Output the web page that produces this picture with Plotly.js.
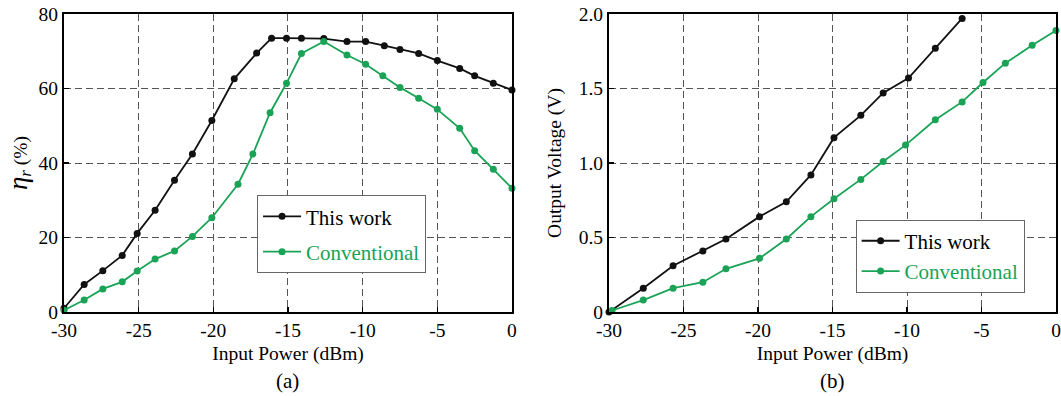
<!DOCTYPE html>
<html>
<head>
<meta charset="utf-8">
<script src="https://cdn.plot.ly/plotly-3.0.1.min.js"></script>
<style>html,body{margin:0;padding:0;background:#fff;}#chart{width:1061px;height:396px;}</style>
</head>
<body>
<div id="chart"></div>
<script>
// Panel (a): rectifier efficiency (%) vs input power (dBm)
const effThisX = [-30, -28.65, -27.4, -26.1, -25.1, -23.9, -22.6, -21.4, -20.1, -18.6, -17.1, -16.1, -15.1, -14.1, -12.6, -11.05, -9.8, -8.55, -7.5, -6.25, -5.0, -3.5, -2.5, -1.25, 0];
const effThisY = [1.0, 7.4, 11.1, 15.2, 21.1, 27.3, 35.4, 42.4, 51.4, 62.6, 69.5, 73.5, 73.5, 73.5, 73.4, 72.6, 72.6, 71.5, 70.5, 69.4, 67.5, 65.4, 63.4, 61.4, 59.6];
const effConvX = [-30, -28.65, -27.4, -26.1, -25.1, -23.9, -22.6, -21.4, -20.1, -18.35, -17.35, -16.2, -15.1, -14.1, -12.6, -11.05, -9.8, -8.65, -7.5, -6.25, -5.0, -3.5, -2.5, -1.25, 0];
const effConvY = [0.5, 3.2, 6.2, 8.1, 11.0, 14.2, 16.4, 20.3, 25.3, 34.3, 42.4, 53.5, 61.4, 69.4, 72.6, 69.0, 66.5, 63.4, 60.3, 57.4, 54.4, 49.3, 43.3, 38.3, 33.2];

// Panel (b): output voltage (V) vs input power (dBm)
const voltThisX = [-30, -27.7, -25.7, -23.7, -22.15, -19.9, -18.1, -16.45, -14.9, -13.1, -11.6, -9.9, -8.1, -6.3];
const voltThisY = [0.0, 0.16, 0.31, 0.41, 0.49, 0.64, 0.74, 0.92, 1.17, 1.32, 1.47, 1.57, 1.77, 1.97];
const voltConvX = [-29.8, -27.7, -25.7, -23.7, -22.15, -19.9, -18.1, -16.45, -14.9, -13.1, -11.6, -10.1, -8.1, -6.3, -4.9, -3.4, -1.6, 0];
const voltConvY = [0.01, 0.08, 0.16, 0.20, 0.29, 0.36, 0.49, 0.64, 0.76, 0.89, 1.01, 1.12, 1.29, 1.41, 1.54, 1.67, 1.79, 1.89];

const xTicks = [-30, -25, -20, -15, -10, -5, 0];
const xTickText = ['-30', '-25', '-20', '-15', '-10', '-5', '0'];
const effTicks = [0, 20, 40, 60, 80];
const effTickText = ['0', '20', '40', '60', '80'];
const voltTicks = [0, 0.5, 1.0, 1.5, 2.0];
const voltTickText = ['0', '0.5', '1.0', '1.5', '2.0'];

const seriesNames = ['This work', 'Conventional'];
const panelLabels = ['(a)', '(b)'];

const BLACK = '#111111';
const GREEN = '#1aa356';
const FONT = '"Liberation Serif", "Times New Roman", Times, serif';

function tr(x, y, name, color, xa, ya, leg, grp) {
  return {
    x: x, y: y, type: 'scatter', mode: 'lines+markers',
    name: name, xaxis: xa, yaxis: ya, legend: leg, legendgroup: grp,
    line: {color: color, width: 1.8},
    marker: {color: color, size: 7},
    cliponaxis: false
  };
}
const convName = '<span style="color:' + GREEN + '">' + seriesNames[1] + '</span>';

const data = [
  tr(effThisX, effThisY, seriesNames[0], BLACK, 'x', 'y', 'legend', 'a1'),
  tr(effConvX, effConvY, convName, GREEN, 'x', 'y', 'legend', 'a2'),
  tr(voltThisX, voltThisY, seriesNames[0], BLACK, 'x2', 'y2', 'legend2', 'b'),
  tr(voltConvX, voltConvY, convName, GREEN, 'x2', 'y2', 'legend2', 'b')
];

function xax(domain, anchor) {
  return {
    domain: domain, anchor: anchor, range: [-30, 0],
    tickvals: xTicks, ticktext: xTickText,
    ticks: 'inside', ticklen: 5, tickwidth: 1.5, tickcolor: '#000',
    showgrid: true, gridcolor: '#555', gridwidth: 1, griddash: '7px,4px',
    showline: true, linecolor: '#000', linewidth: 2, mirror: true,
    zeroline: false, tickfont: {family: FONT, size: 19.5, color: '#000'},
    title: {text: 'Input Power (dBm)', font: {family: FONT, size: 19.5, color: '#000'}, standoff: 6},
    fixedrange: true
  };
}
function yax(anchor, range, tv, tt, title, standoff) {
  return {
    domain: [0, 1], anchor: anchor, range: range,
    tickvals: tv, ticktext: tt,
    ticks: 'inside', ticklen: 5, tickwidth: 1.5, tickcolor: '#000',
    showgrid: true, gridcolor: '#555', gridwidth: 1, griddash: '7px,4px',
    showline: true, linecolor: '#000', linewidth: 2, mirror: true,
    zeroline: false, tickfont: {family: FONT, size: 19.5, color: '#000'},
    title: {text: title, font: {family: FONT, size: 19.5, color: '#000'}, standoff: standoff},
    fixedrange: true
  };
}

const layout = {
  width: 1061, height: 396,
  margin: {l: 64, r: 5, t: 14, b: 84},
  paper_bgcolor: '#fff', plot_bgcolor: '#fff',
  font: {family: FONT, color: '#000', size: 19},
  xaxis: xax([0, 0.4516], 'y'),
  yaxis: yax('x', [0, 80], effTicks, effTickText,
    '<i><span style="font-size:27px">η</span><sub><span style="font-size:17px">r</span></sub></i> (%)', 6),
  xaxis2: xax([0.5494, 1], 'y2'),
  yaxis2: yax('x2', [0, 2], voltTicks, voltTickText, 'Output Voltage (V)', 12),
  legend: {
    x: 0.1946, y: 0.392, xanchor: 'left', yanchor: 'top',
    bgcolor: '#fff', bordercolor: '#666', borderwidth: 1, itemwidth: 38,
    traceorder: 'grouped', tracegroupgap: 5,
    font: {family: FONT, size: 21, color: '#000'}
  },
  legend2: {
    x: 0.798, y: 0.31, xanchor: 'left', yanchor: 'top',
    bgcolor: '#fff', bordercolor: '#666', borderwidth: 1, itemwidth: 38,
    traceorder: 'normal', tracegroupgap: 0,
    font: {family: FONT, size: 21, color: '#000'}
  },
  annotations: [
    {text: panelLabels[0], xref: 'x', yref: 'paper', x: -15, y: -0.23, showarrow: false,
     xanchor: 'center', yanchor: 'middle', font: {family: FONT, size: 21, color: '#000'}},
    {text: panelLabels[1], xref: 'x2', yref: 'paper', x: -15, y: -0.23, showarrow: false,
     xanchor: 'center', yanchor: 'middle', font: {family: FONT, size: 21, color: '#000'}}
  ],
  showlegend: true
};

Plotly.newPlot('chart', data, layout, {displayModeBar: false, staticPlot: true});
</script>
</body>
</html>
